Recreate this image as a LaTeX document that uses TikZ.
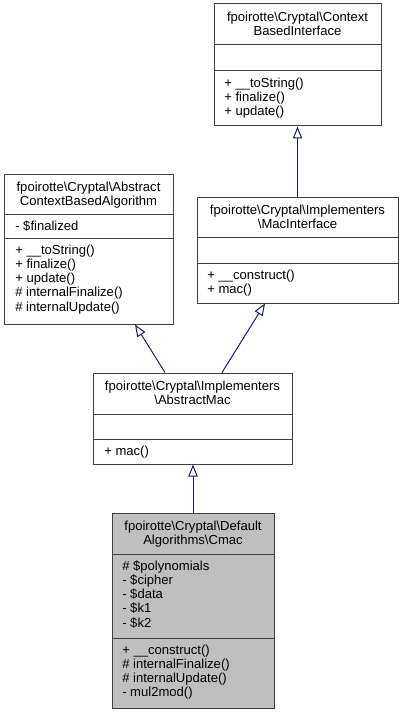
\documentclass[tikz,border=0pt]{standalone}
\usepackage{fontspec}
\setmainfont{Liberation Sans}
\usetikzlibrary{arrows.meta,calc}
\definecolor{edgeblue}{HTML}{191970}
\definecolor{boxline}{HTML}{404040}
\definecolor{grayfill}{HTML}{BFBFBF}
\newcommand{\bs}{\textbackslash}
\tikzset{
  umlbox/.style={draw=boxline, line width=0.75pt, inner sep=0pt, fill=white},
  sepline/.style={draw=boxline, line width=0.75pt},
  txt/.style={inner sep=0pt, font=\fontsize{9.8pt}{10.7pt}\selectfont},
  ttl/.style={txt, anchor=base, align=center},
  mem/.style={txt, anchor=base west, align=left},
  inh/.style={draw=edgeblue, line width=0.75pt, -{Triangle[length=9pt,width=7pt,fill=white]}}
}
\begin{document}
\begin{tikzpicture}[x=0.75pt,y=-0.75pt]
\useasboundingbox (0,0) rectangle (402,713);
% (text nodes are anchored at the baseline of their last line)
% Box A: ContextBasedInterface  x 214-381, y 4-126
\node[umlbox, minimum width={167*0.75pt}, minimum height={122*0.75pt}] (A) at (297.5,65) {};
\draw[sepline] (A.west |- 0,45) -- (A.east |- 0,45);
\draw[sepline] (A.west |- 0,71) -- (A.east |- 0,71);
\node[ttl] (Atitle) at (297.5,35.3) {fpoirotte\bs Cryptal\bs Context\\BasedInterface};
\node[mem] (Ameth) at (224,115.6) {+ \_\_toString()\\+ finalize()\\+ update()};
% Box B: AbstractContextBasedAlgorithm x 4-173, y 174-324
\node[umlbox, minimum width={169*0.75pt}, minimum height={150*0.75pt}] (B) at (88.5,249) {};
\draw[sepline] (B.west |- 0,214) -- (B.east |- 0,214);
\draw[sepline] (B.west |- 0,238) -- (B.east |- 0,238);
\node[ttl] (Btitle) at (88.5,205.3) {fpoirotte\bs Cryptal\bs Abstract\\ContextBasedAlgorithm};
\node[mem] (Battr) at (15,230) {- \$finalized};
\node[mem] (Bmeth) at (15,311.2) {+ \_\_toString()\\+ finalize()\\+ update()\\\# internalFinalize()\\\# internalUpdate()};
% Box C: MacInterface x 197-398, y 197-303
\node[umlbox, minimum width={201*0.75pt}, minimum height={106*0.75pt}] (C) at (297.5,250) {};
\draw[sepline] (C.west |- 0,237) -- (C.east |- 0,237);
\draw[sepline] (C.west |- 0,263) -- (C.east |- 0,263);
\node[ttl] (Ctitle) at (297.5,228.3) {fpoirotte\bs Cryptal\bs Implementers\\\bs MacInterface};
\node[mem] (Cmeth) at (207,293.3) {+ \_\_construct()\\+ mac()};
% Box D: AbstractMac x 93-292, y 373-464
\node[umlbox, minimum width={199*0.75pt}, minimum height={91*0.75pt}] (D) at (192.5,418.5) {};
\draw[sepline] (D.west |- 0,414) -- (D.east |- 0,414);
\draw[sepline] (D.west |- 0,439) -- (D.east |- 0,439);
\node[ttl] (Dtitle) at (192.5,404.3) {fpoirotte\bs Cryptal\bs Implementers\\\bs AbstractMac};
\node[mem] (Dmeth) at (104,455) {+ mac()};
% Box E: Cmac x 112-274, y 513-708
\node[umlbox, fill=grayfill, minimum width={162*0.75pt}, minimum height={195*0.75pt}] (E) at (193,610.5) {};
\draw[sepline] (E.west |- 0,554) -- (E.east |- 0,554);
\draw[sepline] (E.west |- 0,638) -- (E.east |- 0,638);
\node[ttl] (Etitle) at (193,544.3) {fpoirotte\bs Cryptal\bs Default\\Algorithms\bs Cmac};
\node[mem] (Eattr) at (122,627.2) {\# \$polynomials\\- \$cipher\\- \$data\\- \$k1\\- \$k2};
\node[mem] (Emeth) at (122,696.9) {+ \_\_construct()\\\# internalFinalize()\\\# internalUpdate()\\- mul2mod()};
% inheritance edges
\draw[inh] (E.north) -- (E.north |- D.south);
\draw[inh] ($(D.north)+(-27.5,0)$) -- ($(B.south)+(46.5,0)$);
\draw[inh] ($(D.north)+(29.5,0)$) -- ($(C.south)+(-32.5,0)$);
\draw[inh] (C.north) -- (A.south);
\end{tikzpicture}
\end{document}
